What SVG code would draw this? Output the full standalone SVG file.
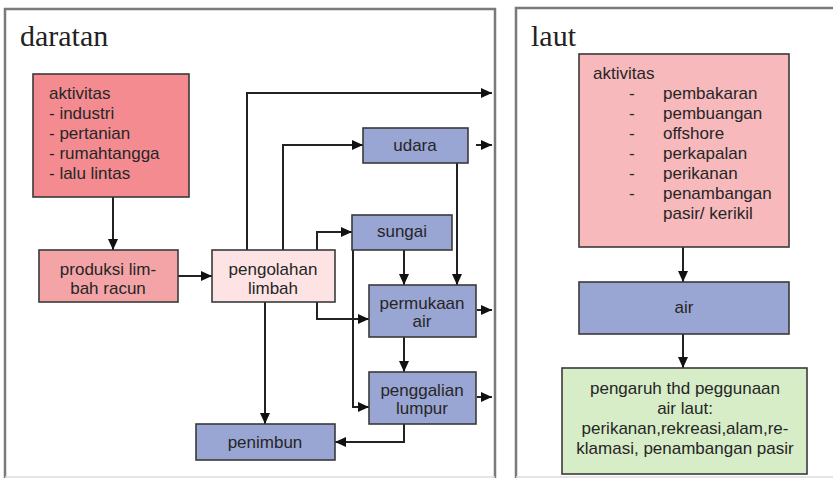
<svg xmlns="http://www.w3.org/2000/svg" width="833" height="478" viewBox="0 0 833 478">
<defs>
<marker id="ah" viewBox="0 0 11 10" refX="11" refY="5" markerWidth="11" markerHeight="10" markerUnits="userSpaceOnUse" orient="auto">
<path d="M0,0 L11,5 L0,10 z" fill="#111"/>
</marker>
<style>
.panel{fill:#fff;stroke:#7a7a7a;stroke-width:2.5}
.box{stroke:#3a3a3a;stroke-width:1.6}
.blue{fill:#99a5d3}
.t{font-family:"Liberation Sans",Arial,sans-serif;font-size:17px;fill:#262626}
.c{text-anchor:middle}
.title{font-family:"Liberation Serif","Times New Roman",serif;font-size:30px;fill:#222}
.ln{fill:none;stroke:#222;stroke-width:2}
.ar{fill:none;stroke:#222;stroke-width:2;marker-end:url(#ah)}
</style>
</defs>
<rect width="833" height="478" fill="#fff"/>
<g id="panel-daratan">
<path class="panel" d="M5,478 V9 H495 V478"/>
<line x1="5" y1="477" x2="495" y2="477" stroke="#ddd" stroke-width="1.5"/>
<text class="title" x="20" y="46">daratan</text>
</g>
<g id="panel-laut">
<path class="panel" d="M516,478 V8 H840"/>
<line x1="516" y1="477" x2="833" y2="477" stroke="#ddd" stroke-width="1.5"/>
<text class="title" x="531" y="46">laut</text>
</g>

<g id="connectors">
<line class="ar" x1="113" y1="197" x2="113" y2="250"/>
<line class="ar" x1="178" y1="276" x2="212" y2="276"/>
<polyline class="ar" points="247,250 247,93 492,93"/>
<polyline class="ar" points="283,250 283,145 363,145"/>
<line class="ar" x1="476" y1="145" x2="492" y2="145"/>
<polyline class="ar" points="317,250 317,232 352,232"/>
<polyline class="ar" points="353,232 353,407 369,407"/>
<polyline class="ar" points="317,302 317,319 369,319"/>
<line class="ar" x1="265" y1="302" x2="265" y2="424"/>
<line class="ar" x1="404" y1="250" x2="404" y2="285"/>
<line class="ar" x1="457" y1="163" x2="457" y2="285"/>
<line class="ar" x1="477" y1="310" x2="492" y2="310"/>
<line class="ar" x1="404" y1="337" x2="404" y2="372"/>
<line class="ar" x1="477" y1="397" x2="492" y2="397"/>
<polyline class="ar" points="404,424 404,442 335,442"/>
<line class="ar" x1="683" y1="247" x2="683" y2="282"/>
<line class="ar" x1="683" y1="334" x2="683" y2="368"/>
</g>

<g id="aktivitas-darat">
<rect class="box" x="33" y="74" width="156" height="123" fill="#f48b90"/>
<text class="t" x="49" y="99">aktivitas</text>
<text class="t" x="49" y="119">- industri</text>
<text class="t" x="49" y="139">- pertanian</text>
<text class="t" x="49" y="159">- rumahtangga</text>
<text class="t" x="49" y="179">- lalu lintas</text>
</g>
<g id="produksi">
<rect class="box" x="39" y="250" width="139" height="52" fill="#f4a4a7"/>
<text class="t c" x="108" y="275">produksi lim-</text>
<text class="t c" x="108" y="294">bah racun</text>
</g>
<g id="pengolahan">
<rect class="box" x="212" y="250" width="123" height="52" fill="#fde3e4"/>
<text class="t c" x="273" y="275">pengolahan</text>
<text class="t c" x="273" y="294">limbah</text>
</g>
<g id="udara">
<rect class="box blue" x="363" y="128" width="105" height="35"/>
<text class="t c" x="415" y="151">udara</text>
</g>
<g id="sungai">
<rect class="box blue" x="352" y="215" width="100" height="35"/>
<text class="t c" x="402" y="237">sungai</text>
</g>
<g id="permukaan">
<rect class="box blue" x="369" y="285" width="107" height="52"/>
<text class="t c" x="422" y="309">permukaan</text>
<text class="t c" x="422" y="327">air</text>
</g>
<g id="penggalian">
<rect class="box blue" x="369" y="372" width="107" height="52"/>
<text class="t c" x="422" y="396">penggalian</text>
<text class="t c" x="422" y="414">lumpur</text>
</g>
<g id="penimbun">
<rect class="box blue" x="196" y="424" width="139" height="36"/>
<text class="t c" x="265" y="448">penimbun</text>
</g>

<g id="aktivitas-laut">
<rect class="box" x="579" y="54" width="210" height="193" fill="#f7b9bc"/>
<text class="t" x="593" y="79">aktivitas</text>
<text class="t" x="629" y="99">-</text><text class="t" x="663" y="99">pembakaran</text>
<text class="t" x="629" y="119">-</text><text class="t" x="663" y="119">pembuangan</text>
<text class="t" x="629" y="139">-</text><text class="t" x="663" y="139">offshore</text>
<text class="t" x="629" y="159">-</text><text class="t" x="663" y="159">perkapalan</text>
<text class="t" x="629" y="179">-</text><text class="t" x="663" y="179">perikanan</text>
<text class="t" x="629" y="199">-</text><text class="t" x="663" y="199">penambangan</text>
<text class="t" x="663" y="219">pasir/ kerikil</text>
</g>
<g id="air">
<rect class="box blue" x="579" y="282" width="210" height="52"/>
<text class="t c" x="684" y="313">air</text>
</g>
<g id="pengaruh">
<rect class="box" x="562" y="368" width="245" height="106" fill="#d6edc8"/>
<text class="t c" x="685" y="394">pengaruh thd peggunaan</text>
<text class="t c" x="685" y="414">air laut:</text>
<text class="t c" x="685" y="434">perikanan,rekreasi,alam,re-</text>
<text class="t c" x="685" y="454">klamasi, penambangan pasir</text>
</g>
</svg>
